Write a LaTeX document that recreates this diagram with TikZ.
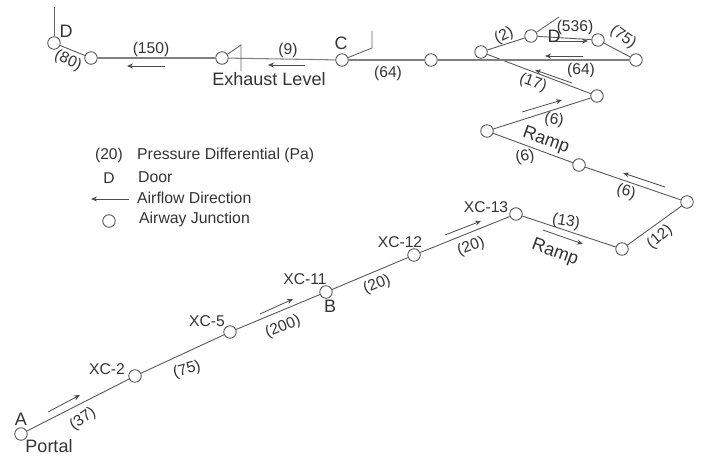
\documentclass[tikz,border=0pt]{standalone}
\usepackage{fontspec}
\setmainfont{Liberation Sans}
\usetikzlibrary{arrows.meta}
\tikzset{
  jct/.style={circle,draw=black!70,fill=white,line width=0.8pt,minimum size=12.5pt,inner sep=0pt},
  airway/.style={draw=black!65,line width=0.9pt},
  topway/.style={draw=black!50,line width=1.05pt},
  door/.style={draw=black!60,line width=0.9pt},
  flow/.style={draw=black!70,line width=0.8pt,-{Stealth[length=6pt,width=5pt]}},
  lab/.style={inner sep=0pt,text=black!80,font=\fontsize{15.6}{15.6}\selectfont},
  big/.style={inner sep=0pt,text=black!80,font=\fontsize{18}{18}\selectfont},
  leg/.style={inner sep=0pt,anchor=west,text=black!80,font=\fontsize{15.8}{15.8}\selectfont},
}
\newcommand{\flowarrow}[5]{\coordinate (#1s) at (#2,#3); \coordinate (#1e) at (#4,#5); \draw[flow] (#1s) -- (#1e);}
\begin{document}
\begin{tikzpicture}[x=1pt,y=-1pt]
\useasboundingbox (0,0) rectangle (701,455);
% door free ends
\coordinate (d1top) at (54,7);
\coordinate (d2a) at (241,45); \coordinate (d2b) at (241,71);
\coordinate (d3a) at (372,48); \coordinate (d3b) at (372,31);
\coordinate (d4end) at (559,17);
% junction centres
\coordinate (pA) at (21,434);
\coordinate (pX2) at (135,376);
\coordinate (pX5) at (230,332);
\coordinate (pX11) at (326,292);
\coordinate (pX12) at (414,255);
\coordinate (pX13) at (516,214);
\coordinate (pR1) at (622,249);
\coordinate (pR2) at (687,202);
\coordinate (pR3) at (579,165);
\coordinate (pR4) at (487,131);
\coordinate (pR5) at (597,96);
\coordinate (pT1) at (481,52);
\coordinate (pT2) at (531,36);
\coordinate (pT3) at (598,40);
\coordinate (pT4) at (636,60);
\coordinate (pJ) at (431,60);
\coordinate (pC) at (342,60);
\coordinate (pE) at (222,58);
\coordinate (pF) at (91,58);
\coordinate (pD) at (54,43);
% junctions
\foreach \n in {A,X2,X5,X11,X12,X13,R1,R2,R3,R4,R5,T1,T2,T3,T4,J,C,E,F,D}
  \node[jct] (\n) at (p\n) {};
% connectors
\draw[airway] (A) -- (X2);
\draw[airway] (X2) -- (X5);
\draw[airway] (X5) -- (X11);
\draw[airway] (X11) -- (X12);
\draw[airway] (X12) -- (X13);
\draw[airway] (X13) -- (R1);
\draw[airway] (R1) -- (R2);
\draw[airway] (R2) -- (R3);
\draw[airway] (R3) -- (R4);
\draw[airway] (R4) -- (R5);
\draw[airway] (R5) -- (T1);
\draw[airway] (T1) -- (T2);
\draw[airway] (T2) -- (T3);
\draw[airway] (T3) -- (T4);
\draw[topway] (T4) -- (J);
\draw[topway] (J) -- (C);
\draw[topway] (C) -- (E);
\draw[topway] (E) -- (F);
\draw[airway] (F) -- (D);
% doors
\draw[door] (D) -- (d1top);
\draw[door] (E) -- (d2a) -- (d2b);
\draw[door] (C) -- (d3a) -- (d3b);
\draw[door] (T2) -- (d4end);
% flow arrows
\flowarrow{a1}{165}{66}{127}{66}
\flowarrow{a2}{305}{65}{268}{65}
\flowarrow{a3}{583}{56}{545}{56}
\flowarrow{a4}{550}{41}{588}{41}
\flowarrow{a5}{572}{83}{535}{70}
\flowarrow{a6}{522}{112}{562}{100}
\flowarrow{a7}{665}{187}{623}{173}
\flowarrow{a8}{445}{235}{481}{221}
\flowarrow{a9}{543}{230}{583}{244}
\flowarrow{a10}{48}{412}{80}{395}
\flowarrow{a11}{260}{314}{293}{299}
% labels
\node[lab] (l150) at (151,49) {(150)};
\node[lab] (l9) at (288,50) {(9)};
\node[big] (lC) at (341,43) {C};
\node[big] (lD) at (66,31) {D};
\node[lab,rotate=-25] (l80) at (68,61) {(80)};
\node[big] (lEx) at (269,79) {Exhaust Level};
\node[lab] (l64a) at (388,73) {(64)};
\node[lab,rotate=25] (l2) at (504,36) {(2)};
\node[lab] (l536) at (575,27) {(536)};
\node[big] (lD2) at (554,36) {D};
\node[lab,rotate=-35] (l75a) at (623,37) {(75)};
\node[lab] (l64b) at (581,70) {(64)};
\node[lab,rotate=-20] (l17) at (533,83) {(17)};
\node[lab,rotate=-10] (l6a) at (554,120) {(6)};
\node[big,rotate=-20] (lR1) at (546,141) {Ramp};
\node[lab,rotate=10] (l6b) at (525,157) {(6)};
\node[lab,rotate=-15] (l6c) at (626,192) {(6)};
\node[lab,rotate=-10] (l13) at (566,222) {(13)};
\node[big,rotate=-20] (lR2) at (555,253) {Ramp};
\node[lab,rotate=40] (l12) at (660,237) {(12)};
\node[lab,rotate=20] (l20a) at (471,247) {(20)};
\node[lab,rotate=22] (l20b) at (377,285) {(20)};
\node[lab] (lX13) at (486,207) {XC-13};
\node[lab] (lX12) at (400,242) {XC-12};
\node[lab] (lX11) at (305,279) {XC-11};
\node[lab] (lX5) at (207,321) {XC-5};
\node[lab] (lX2) at (107,369) {XC-2};
\node[lab,rotate=22] (l200) at (283,327) {(200)};
\node[lab,rotate=15] (l75b) at (187,370) {(75)};
\node[lab,rotate=35] (l37) at (83,419) {(37)};
\node[big] (lB) at (330,306) {B};
\node[big] (lA) at (21,419) {A};
\node[big] (lP) at (49,446) {Portal};
% legend
\node[lab] (k20) at (109,155) {(20)};
\node[leg] (t20) at (137,155) {Pressure Differential (Pa)};
\node[lab] (kD) at (109,178) {D};
\node[leg] (tD) at (138,177) {Door};
\flowarrow{k}{129}{199}{91}{199}
\node[leg] (tA) at (137,198) {Airflow Direction};
\node[jct] (kJ) at (109,221) {};
\node[leg] (tJ) at (139,219) {Airway Junction};
\end{tikzpicture}
\end{document}
